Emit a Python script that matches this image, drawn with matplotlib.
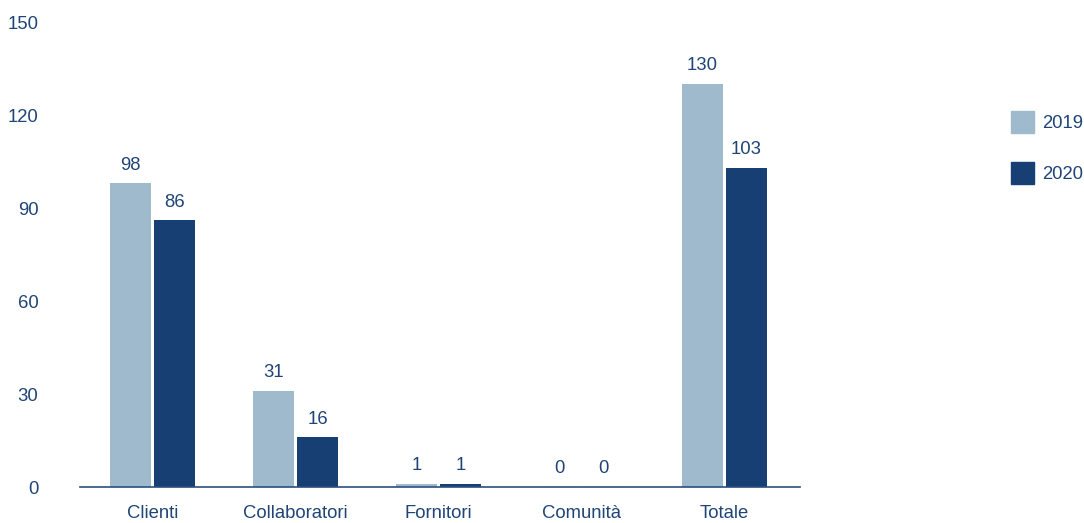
import numpy as np
import matplotlib.pyplot as plt
from matplotlib.patches import Patch

plt.rcParams['font.family'] = ['Liberation Sans', 'DejaVu Sans']

categorie = ['Clienti', 'Collaboratori', 'Fornitori', 'Comunità', 'Totale']
anni = ['2019', '2020']
valori_2019 = [98, 31, 1, 0, 130]
valori_2020 = [86, 16, 1, 0, 103]

col_chiaro = '#9fbacd'
col_scuro = '#173f73'
col_testo = '#1f4478'
fs = 13.3

fig = plt.figure(figsize=(10.84, 5.23), dpi=100)
ax = fig.add_axes([0.0738, 0.0688, 0.664, 0.889])

x = np.arange(len(categorie))
w = 0.287
b1 = ax.bar(x - 0.154, valori_2019, w, color=col_chiaro)
b2 = ax.bar(x + 0.154, valori_2020, w, color=col_scuro)

# barre a zero: linea grigia chiara
for bars, vals in ((b1, valori_2019), (b2, valori_2020)):
    for r, v in zip(bars, vals):
        if v == 0:
            r.set_edgecolor('#d9d9d9')
            r.set_linewidth(0.8)
        ax.annotate(str(v), (r.get_x() + r.get_width() / 2, v),
                    xytext=(0, 7), textcoords='offset points',
                    ha='center', va='bottom', fontsize=fs, color=col_testo)

ax.set_xlim(-0.507, 4.528)
ax.set_ylim(0, 150)
ax.set_yticks([0, 30, 60, 90, 120, 150])
ax.set_xticks(x)
ax.set_xticklabels(categorie)
ax.tick_params(axis='both', length=0, labelsize=fs, labelcolor=col_testo)
ax.tick_params(axis='y', pad=30)
ax.tick_params(axis='x', pad=13)

for s in ['top', 'right', 'left']:
    ax.spines[s].set_visible(False)
ax.spines['bottom'].set_color('#2b4f7f')
ax.spines['bottom'].set_linewidth(1.2)

handles = [Patch(color=col_chiaro), Patch(color=col_scuro)]
leg = fig.legend(handles, anni, loc='center left', bbox_to_anchor=(0.9175, 0.718),
                 frameon=False, fontsize=fs, handlelength=1.25, handleheight=1.45,
                 labelspacing=1.55, handletextpad=0.45)
for t in leg.get_texts():
    t.set_color(col_testo)

fig.savefig('out.png', dpi=100)
